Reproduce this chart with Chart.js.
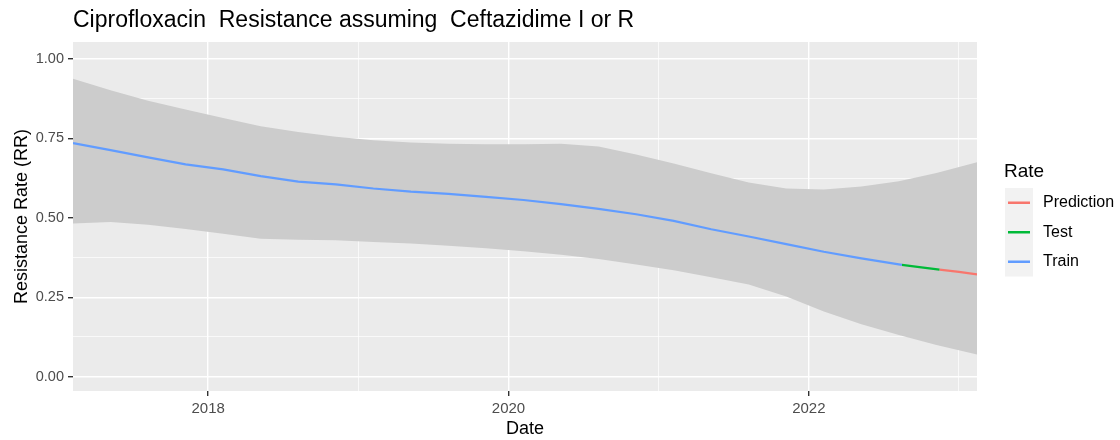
<!DOCTYPE html>
<html>
<head>
<meta charset="utf-8">
<title>Ciprofloxacin Resistance</title>
<script src="https://cdn.jsdelivr.net/npm/chart.js@4.4.1/dist/chart.umd.min.js"></script>
<style>
  html, body { margin: 0; padding: 0; background: #ffffff; }
  #wrap { position: relative; width: 1120px; height: 440px; }
</style>
</head>
<body>
<div id="wrap"><canvas id="rateChart" width="1120" height="440"></canvas></div>
<script>
// Fitted resistance rate (decimal years)
const trainDates = [2017.1, 2017.35, 2017.6, 2017.85, 2018.1, 2018.35, 2018.6, 2018.85,
                    2019.1, 2019.35, 2019.6, 2019.85, 2020.1, 2020.35, 2020.6, 2020.85,
                    2021.1, 2021.35, 2021.6, 2021.85, 2022.1, 2022.35, 2022.62];
const trainRate  = [0.735, 0.713, 0.690, 0.668, 0.652, 0.631, 0.614, 0.605,
                    0.592, 0.582, 0.575, 0.566, 0.556, 0.543, 0.528, 0.511,
                    0.490, 0.464, 0.441, 0.417, 0.393, 0.372, 0.352];
const testDates  = [2022.62, 2022.75, 2022.87];
const testRate   = [0.352, 0.344, 0.337];
const predDates  = [2022.87, 2023.0, 2023.12];
const predRate   = [0.337, 0.330, 0.322];

// Confidence band
const bandDates = [2017.1, 2017.35, 2017.6, 2017.85, 2018.1, 2018.35, 2018.6, 2018.85,
                   2019.1, 2019.35, 2019.6, 2019.85, 2020.1, 2020.35, 2020.6, 2020.85,
                   2021.1, 2021.35, 2021.6, 2021.85, 2022.1, 2022.35, 2022.6, 2022.85, 2023.12];
const bandUpper = [0.937, 0.901, 0.868, 0.841, 0.814, 0.788, 0.770, 0.755,
                   0.744, 0.737, 0.733, 0.731, 0.731, 0.733, 0.724, 0.699,
                   0.671, 0.640, 0.611, 0.592, 0.589, 0.598, 0.615, 0.641, 0.675];
const bandLower = [0.482, 0.487, 0.478, 0.465, 0.450, 0.434, 0.431, 0.429,
                   0.424, 0.419, 0.412, 0.404, 0.395, 0.384, 0.370, 0.353,
                   0.335, 0.313, 0.290, 0.252, 0.205, 0.165, 0.131, 0.100, 0.070];

// Axis ticks (majors get labels, the rest are minor grid lines)
const xTicks = [2018, 2019, 2020, 2021, 2022, 2023];
const xLabels = [2018, 2020, 2022];
const yTicks = [0, 0.125, 0.25, 0.375, 0.5, 0.625, 0.75, 0.875, 1];
const yLabels = [0, 0.25, 0.5, 0.75, 1];

const toPoints = (xs, ys) => xs.map((x, i) => ({ x: x, y: ys[i] }));
const isMajor = (list, v) => list.some(m => Math.abs(m - v) < 1e-6);

const FONT = "'Liberation Sans', Arial, sans-serif";

// grey panel behind the plot
const panelBg = {
    id: 'panelBg',
    beforeDraw(chart) {
        const { ctx, chartArea: a } = chart;
        ctx.save();
        ctx.fillStyle = '#EBEBEB';
        ctx.fillRect(a.left, a.top, a.right - a.left, a.bottom - a.top);
        ctx.restore();
    }
};

// title over the panel and the "Rate" legend on the right
const decorations = {
    id: 'decorations',
    afterDraw(chart) {
        const { ctx, chartArea: a } = chart;
        ctx.save();
        ctx.fillStyle = '#000000';
        ctx.textBaseline = 'middle';
        ctx.textAlign = 'left';
        ctx.font = '23px ' + FONT;
        ctx.fillText('Ciprofloxacin  Resistance assuming  Ceftazidime I or R', a.left, 21);

        const lx = a.right + 28;
        ctx.font = '19px ' + FONT;
        ctx.fillText('Rate', lx - 1, 172);

        const entries = chart.data.datasets
            .filter(d => d.inLegend)
            .sort((p, q) => p.label.localeCompare(q.label));
        const keyW = 28, keyH = 29.5, top = 188;
        ctx.fillStyle = '#F2F2F2';
        ctx.fillRect(lx, top, keyW, keyH * entries.length);
        ctx.font = '16px ' + FONT;
        entries.forEach((d, i) => {
            const cy = top + keyH * i + keyH / 2;
            ctx.strokeStyle = d.borderColor;
            ctx.lineWidth = 2.5;
            ctx.beginPath();
            ctx.moveTo(lx + 3, cy);
            ctx.lineTo(lx + keyW - 3, cy);
            ctx.stroke();
            ctx.fillStyle = '#000000';
            ctx.fillText(d.label, lx + keyW + 10, cy);
        });
        ctx.restore();
    }
};

const ctx = document.getElementById('rateChart');
const chart = new Chart(ctx, {
    type: 'line',
    data: {
        datasets: [
            {
                label: 'Train',
                inLegend: true,
                data: toPoints(trainDates, trainRate),
                borderColor: '#619CFF',
                borderWidth: 2.2,
                pointRadius: 0,
                fill: false,
                order: 0
            },
            {
                label: 'Test',
                inLegend: true,
                data: toPoints(testDates, testRate),
                borderColor: '#00BA38',
                borderWidth: 2.2,
                pointRadius: 0,
                fill: false,
                order: 0
            },
            {
                label: 'Prediction',
                inLegend: true,
                data: toPoints(predDates, predRate),
                borderColor: '#F8766D',
                borderWidth: 2.2,
                pointRadius: 0,
                fill: false,
                order: 0
            },
            {
                label: 'upper',
                data: toPoints(bandDates, bandUpper),
                borderWidth: 0,
                borderColor: 'rgba(0,0,0,0)',
                backgroundColor: '#CCCCCC',
                pointRadius: 0,
                fill: '+1',
                order: 1
            },
            {
                label: 'lower',
                data: toPoints(bandDates, bandLower),
                borderWidth: 0,
                borderColor: 'rgba(0,0,0,0)',
                pointRadius: 0,
                fill: false,
                order: 1
            }
        ]
    },
    options: {
        responsive: false,
        animation: false,
        layout: { padding: { top: 42, right: 143, left: 0, bottom: 0 } },
        plugins: {
            legend: { display: false },
            title: { display: false },
            tooltip: { enabled: false }
        },
        scales: {
            x: {
                type: 'linear',
                min: 2017.1,
                max: 2023.12,
                afterBuildTicks: scale => { scale.ticks = xTicks.map(v => ({ value: v })); },
                afterFit: scale => { scale.height = 49; },
                border: { display: false },
                grid: {
                    color: '#FFFFFF',
                    lineWidth: c => isMajor(xLabels, c.tick.value) ? 1.4 : 0.7,
                    tickColor: c => isMajor(xLabels, c.tick.value) ? '#333333' : 'rgba(0,0,0,0)',
                    tickLength: 5,
                    drawTicks: true
                },
                ticks: {
                    autoSkip: false,
                    maxRotation: 0,
                    padding: 4,
                    color: '#4D4D4D',
                    font: { family: FONT, size: 15 },
                    callback: v => isMajor(xLabels, v) ? String(v) : ''
                },
                title: {
                    display: true,
                    text: 'Date',
                    color: '#000000',
                    font: { family: FONT, size: 18 },
                    padding: { top: 0, bottom: 0 }
                }
            },
            y: {
                min: -0.045,
                max: 1.053,
                afterBuildTicks: scale => { scale.ticks = yTicks.map(v => ({ value: v })); },
                afterFit: scale => { scale.width = 73; },
                border: { display: false },
                grid: {
                    color: '#FFFFFF',
                    lineWidth: c => isMajor(yLabels, c.tick.value) ? 1.4 : 0.7,
                    tickColor: c => isMajor(yLabels, c.tick.value) ? '#333333' : 'rgba(0,0,0,0)',
                    tickLength: 5,
                    drawTicks: true
                },
                ticks: {
                    autoSkip: false,
                    padding: 4,
                    color: '#4D4D4D',
                    font: { family: FONT, size: 14.5 },
                    callback: v => isMajor(yLabels, v) ? v.toFixed(2) : ''
                },
                title: {
                    display: true,
                    text: 'Resistance Rate (RR)',
                    color: '#000000',
                    font: { family: FONT, size: 18 },
                    padding: { top: 11, bottom: 0 }
                }
            }
        }
    },
    plugins: [panelBg, decorations]
});
</script>
</body>
</html>
